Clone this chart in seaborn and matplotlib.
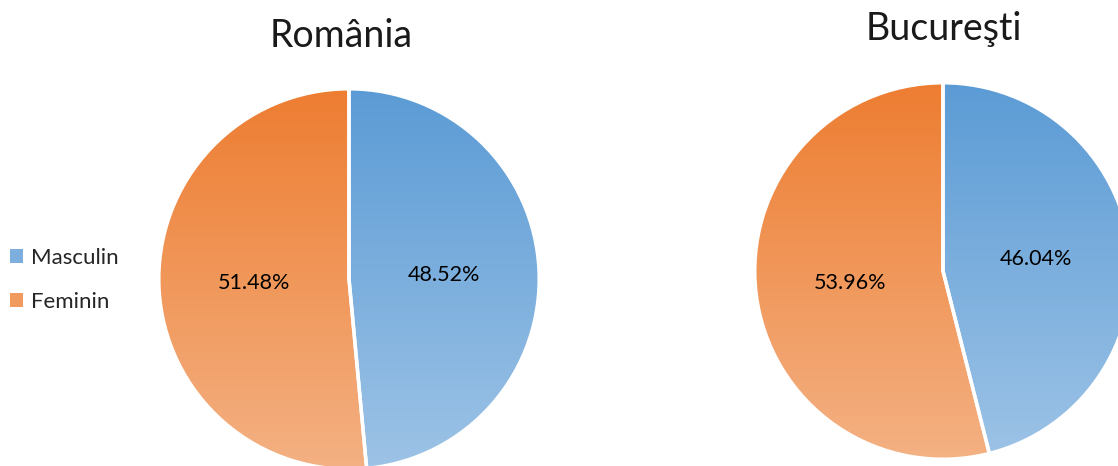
import numpy as np
import matplotlib
matplotlib.use("Agg")
import matplotlib.pyplot as plt
import seaborn as sns
from matplotlib.colors import LinearSegmentedColormap
from matplotlib.patches import Patch

# date
categorii = ["Masculin", "Feminin"]
romania = [48.52, 51.48]
bucuresti = [46.04, 53.96]
titluri = ["România", "Bucureşti"]

sns.set_style("white")
plt.rcParams['font.family'] = ['Lato', 'DejaVu Sans']

# culori (sus -> jos)
albastru = ["#5b9bd5", "#9dc3e6"]
portocaliu = ["#ed7d31", "#f4b183"]

fig = plt.figure(figsize=(11.18, 4.66), dpi=100)
W, H = 1118, 466


def pie_gradient(ax, valori):
    wedges, texts, autotexts = ax.pie(
        valori, startangle=90, counterclock=False, radius=1,
        autopct='%.2f%%', pctdistance=0.5,
        wedgeprops=dict(edgecolor='white', linewidth=2.5),
        textprops=dict(fontsize=15.5, color='black'))
    for w, cols in zip(wedges, [albastru, portocaliu]):
        cmap = LinearSegmentedColormap.from_list('g', cols)
        grad = np.linspace(0, 1, 256).reshape(-1, 1)
        im = ax.imshow(grad, cmap=cmap, extent=[-1, 1, -1, 1], origin='upper',
                       aspect='auto', zorder=w.get_zorder() - 0.1)
        im.set_clip_path(w)
        w.set_facecolor('none')
    for t in autotexts:
        t.set_zorder(5)
    ax.set_xlim(-1.02, 1.02)
    ax.set_ylim(-1.02, 1.02)
    ax.set_aspect('equal')
    ax.axis('off')


# pozitii in pixeli: centru x, centru y (de sus), raza
ax1 = fig.add_axes([(349 - 194) / W, (H - 279 - 194) / H, 388 / W, 388 / H])
pie_gradient(ax1, romania)
ax2 = fig.add_axes([(943 - 192) / W, (H - 271 - 192) / H, 384 / W, 384 / H])
pie_gradient(ax2, bucuresti)

fig.text(341 / W, 1 - 36 / H, titluri[0], ha='center', va='center',
         fontsize=27, color='#1a1a1a')
fig.text(944 / W, 1 - 29 / H, titluri[1], ha='center', va='center',
         fontsize=27, color='#1a1a1a')

handles = [Patch(facecolor="#7cafdd", edgecolor='none'),
           Patch(facecolor="#f09a5e", edgecolor='none')]
fig.legend(handles, categorii, loc='center left', bbox_to_anchor=(10 / W, 1 - 280 / H),
           frameon=False, fontsize=16, handlelength=0.6, handleheight=0.6,
           handletextpad=0.35, labelspacing=1.1, borderpad=0, borderaxespad=0)

fig.savefig("out.png", dpi=100)
